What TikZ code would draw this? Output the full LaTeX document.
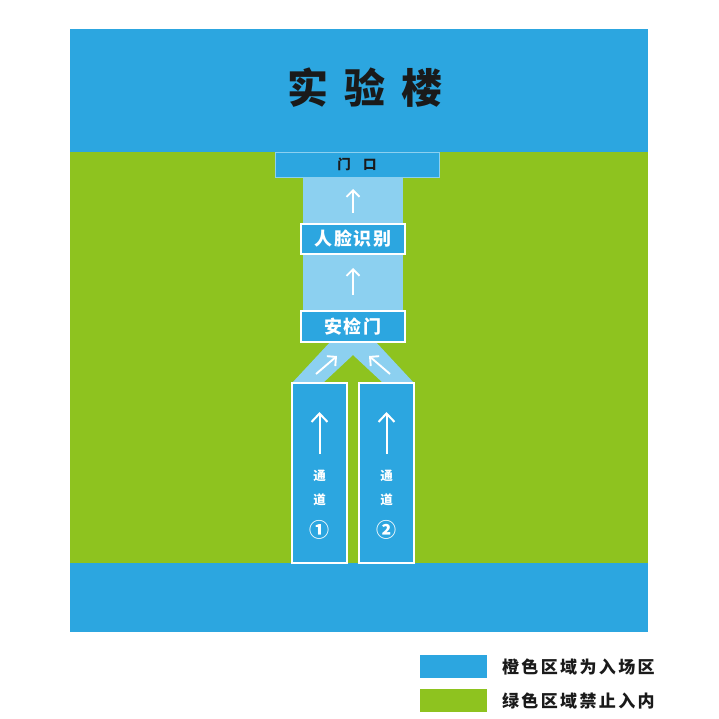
\documentclass[tikz,border=0pt]{standalone}
\usepackage{fontspec}
\setmainfont{Noto Sans CJK SC}
\usetikzlibrary{positioning,arrows.meta}
\definecolor{zoneblue}{HTML}{2CA6E0}
\definecolor{zonegreen}{HTML}{8EC31F}
\definecolor{lanelight}{HTML}{8CD0F0}
\definecolor{ink}{HTML}{1A1A1A}
\tikzset{
  gatebox/.style={fill=zoneblue,draw=white,line width=2pt,text=white,font=\fontsize{18}{20}\selectfont\bfseries\addfontfeature{LetterSpace=8}},
  lanebox/.style={fill=zoneblue,draw=white,line width=2pt,minimum width=55,minimum height=180},
  flow/.style={-{Straight Barb[length=6.5pt,width=13pt]},draw=white,line width=1.9pt},
  bigflow/.style={-{Straight Barb[length=8.5pt,width=16pt]},draw=white,line width=2pt},
  lanetext/.style={text=white,font=\fontsize{12.5}{13}\selectfont\bfseries},
  legendtext/.style={anchor=west,text=ink,font=\fontsize{17}{18}\selectfont\bfseries\addfontfeature{LetterSpace=14}}
}
\begin{document}
\begin{tikzpicture}[x=1pt,y=-1pt,every node/.style={inner sep=0,outer sep=0}]
    \useasboundingbox[fill=white] (0,0) rectangle (719,719);
    % zones
    \fill[zoneblue] (70,29) rectangle (648,152);
    \fill[zonegreen] (70,152) rectangle (648,563);
    \fill[zoneblue] (70,563) rectangle (648,632);
    \node(title)[text=ink,font=\fontsize{41}{43}\selectfont\bfseries\addfontfeature{LetterSpace=38}] at (365,88) {实验楼};

    % walkway
    \fill[lanelight] (303,177) rectangle (403,320);
    \fill[lanelight] (292,383) -- (332,340) -- (374,340) -- (414,383) -- (383,383) -- (353,355) -- (323,383) -- cycle;

    \node(door)[fill=zoneblue,draw=lanelight,line width=0.8pt,minimum width=164,minimum height=25,text=ink,font=\fontsize{13.5}{14}\selectfont\bfseries] at (357,164.5) {门\hspace{0.9em}口};
    \node(face)[gatebox,minimum width=104,minimum height=30] at (353,239) {人脸识别};
    \node(check)[gatebox,minimum width=104,minimum height=31] at (353,326.5) {安检门};

    \node(lane1)[lanebox] at (319.5,473) {};
    \node(lane2)[lanebox] at (386.5,473) {};

    \draw[flow,shorten <=11pt,shorten >=12pt] (face.north) -- (face.north |- door.south);
    \draw[flow,shorten <=16pt,shorten >=14pt] (check.north) -- (face.south);

    \coordinate(in1) at (316,374);
    \coordinate(out1) at (337,356);
    \coordinate(in2) at (390,374);
    \coordinate(out2) at (369,356);
    \draw[flow] (in1) -- (out1);
    \draw[flow] (in2) -- (out2);

    \foreach \n/\x/\num in {1/319.5/①,2/386.5/②} {
      \coordinate(tail\n) at (\x,454);
      \coordinate(head\n) at (\x,412);
      \draw[bigflow] (tail\n) -- (head\n);
      \node(tong\n)[lanetext] at (\x,476) {通};
      \node(dao\n)[lanetext] at (\x,500) {道};
      \node(num\n)[lanetext,font=\fontsize{20}{21}\selectfont\bfseries] at (\x,530) {\num};
    }

    % legend
    \node(keyblue)[fill=zoneblue,minimum width=67,minimum height=23] at (453.5,666.5) {};
    \node(keygreen)[fill=zonegreen,minimum width=67,minimum height=23] at (453.5,700.5) {};
    \node(textblue)[legendtext] at (502,666.5) {橙色区域为入场区};
    \node(textgreen)[legendtext] at (502,700.5) {绿色区域禁止入内};
\end{tikzpicture}
\end{document}
